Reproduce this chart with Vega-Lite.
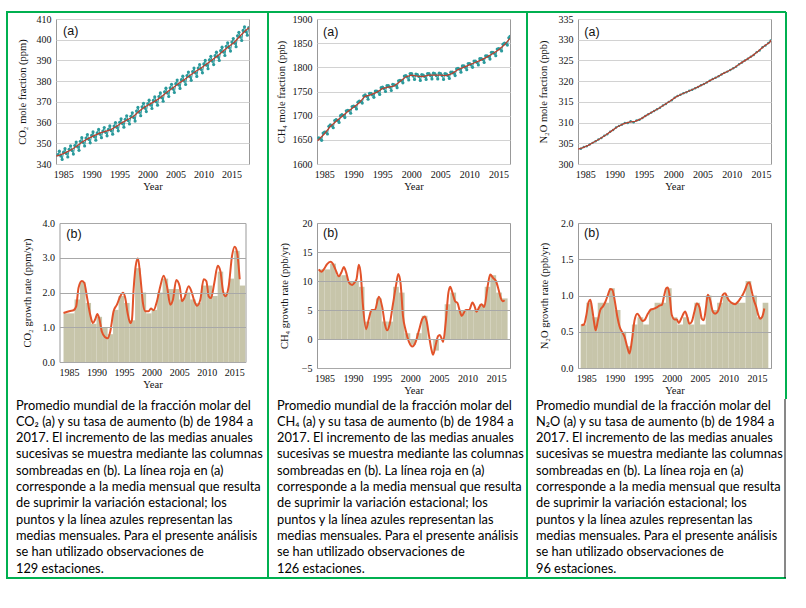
{
"$schema": "https://vega.github.io/schema/vega-lite/v6.json",
"padding": {"left": 6, "top": 11, "right": 2, "bottom": 2},
"background": "white",
"bounds": "flush",
"columns": 3,
"center": true,
"spacing": {"row": 59, "column": 68},
"datasets": {
"co2m": [{"t":1984.05,"v":344.5},{"t":1984.3,"v":346.2},{"t":1984.55,"v":343.9},{"t":1984.8,"v":342.2},
{"t":1985.05,"v":345.7},{"t":1985.3,"v":347.4},{"t":1985.55,"v":345.1},{"t":1985.8,"v":343.4},
{"t":1986.05,"v":347.1},{"t":1986.3,"v":348.8},{"t":1986.55,"v":346.5},{"t":1986.8,"v":344.8},
{"t":1987.05,"v":348.9},{"t":1987.3,"v":350.6},{"t":1987.55,"v":348.3},{"t":1987.8,"v":346.6},
{"t":1988.05,"v":351.0},{"t":1988.3,"v":352.7},{"t":1988.55,"v":350.4},{"t":1988.8,"v":348.7},
{"t":1989.05,"v":352.5},{"t":1989.3,"v":354.2},{"t":1989.55,"v":351.9},{"t":1989.8,"v":350.2},
{"t":1990.05,"v":353.8},{"t":1990.3,"v":355.5},{"t":1990.55,"v":353.2},{"t":1990.8,"v":351.5},
{"t":1991.05,"v":355.0},{"t":1991.3,"v":356.7},{"t":1991.55,"v":354.4},{"t":1991.8,"v":352.7},
{"t":1992.05,"v":355.9},{"t":1992.3,"v":357.6},{"t":1992.55,"v":355.3},{"t":1992.8,"v":353.6},
{"t":1993.05,"v":356.7},{"t":1993.3,"v":358.4},{"t":1993.55,"v":356.1},{"t":1993.8,"v":354.4},
{"t":1994.05,"v":358.3},{"t":1994.3,"v":360.0},{"t":1994.55,"v":357.7},{"t":1994.8,"v":356.0},
{"t":1995.05,"v":360.1},{"t":1995.3,"v":361.8},{"t":1995.55,"v":359.5},{"t":1995.8,"v":357.8},
{"t":1996.05,"v":361.6},{"t":1996.3,"v":363.3},{"t":1996.55,"v":361.0},{"t":1996.8,"v":359.3},
{"t":1997.05,"v":363.0},{"t":1997.3,"v":364.7},{"t":1997.55,"v":362.4},{"t":1997.8,"v":360.7},
{"t":1998.05,"v":365.6},{"t":1998.3,"v":367.3},{"t":1998.55,"v":365.0},{"t":1998.8,"v":363.3},
{"t":1999.05,"v":367.6},{"t":1999.3,"v":369.3},{"t":1999.55,"v":367.0},{"t":1999.8,"v":365.3},
{"t":2000.05,"v":369.1},{"t":2000.3,"v":370.8},{"t":2000.55,"v":368.5},{"t":2000.8,"v":366.8},
{"t":2001.05,"v":370.7},{"t":2001.3,"v":372.4},{"t":2001.55,"v":370.1},{"t":2001.8,"v":368.4},
{"t":2002.05,"v":372.6},{"t":2002.3,"v":374.3},{"t":2002.55,"v":372.0},{"t":2002.8,"v":370.3},
{"t":2003.05,"v":374.9},{"t":2003.3,"v":376.6},{"t":2003.55,"v":374.3},{"t":2003.8,"v":372.6},
{"t":2004.05,"v":376.8},{"t":2004.3,"v":378.5},{"t":2004.55,"v":376.2},{"t":2004.8,"v":374.5},
{"t":2005.05,"v":378.8},{"t":2005.3,"v":380.5},{"t":2005.55,"v":378.2},{"t":2005.8,"v":376.5},
{"t":2006.05,"v":380.7},{"t":2006.3,"v":382.4},{"t":2006.55,"v":380.1},{"t":2006.8,"v":378.4},
{"t":2007.05,"v":382.7},{"t":2007.3,"v":384.4},{"t":2007.55,"v":382.1},{"t":2007.8,"v":380.4},
{"t":2008.05,"v":384.6},{"t":2008.3,"v":386.3},{"t":2008.55,"v":384.0},{"t":2008.8,"v":382.3},
{"t":2009.05,"v":386.3},{"t":2009.3,"v":388.0},{"t":2009.55,"v":385.7},{"t":2009.8,"v":384.0},
{"t":2010.05,"v":388.3},{"t":2010.3,"v":390.0},{"t":2010.55,"v":387.7},{"t":2010.8,"v":386.0},
{"t":2011.05,"v":390.3},{"t":2011.3,"v":392.0},{"t":2011.55,"v":389.7},{"t":2011.8,"v":388.0},
{"t":2012.05,"v":392.3},{"t":2012.3,"v":394.0},{"t":2012.55,"v":391.7},{"t":2012.8,"v":390.0},
{"t":2013.05,"v":394.7},{"t":2013.3,"v":396.4},{"t":2013.55,"v":394.1},{"t":2013.8,"v":392.4},
{"t":2014.05,"v":396.8},{"t":2014.3,"v":398.5},{"t":2014.55,"v":396.2},{"t":2014.8,"v":394.5},
{"t":2015.05,"v":398.9},{"t":2015.3,"v":400.6},{"t":2015.55,"v":398.3},{"t":2015.8,"v":396.6},
{"t":2016.05,"v":401.9},{"t":2016.3,"v":403.6},{"t":2016.55,"v":401.3},{"t":2016.8,"v":399.6},
{"t":2017.05,"v":404.5},{"t":2017.3,"v":406.2},{"t":2017.55,"v":403.9},{"t":2017.8,"v":402.2},
{"t":2018.05,"v":405.8}],
"co2t": [{"t":1983.75,"v":343.8},{"t":1984.5,"v":344.4},{"t":1985.5,"v":345.6},{"t":1986.5,"v":347.0},{"t":1987.5,"v":348.8},{"t":1988.5,"v":350.9},{"t":1989.5,"v":352.4},{"t":1990.5,"v":353.7},{"t":1991.5,"v":354.9},{"t":1992.5,"v":355.8},{"t":1993.5,"v":356.6},{"t":1994.5,"v":358.2},{"t":1995.5,"v":360.0},{"t":1996.5,"v":361.5},{"t":1997.5,"v":362.9},{"t":1998.5,"v":365.5},{"t":1999.5,"v":367.5},{"t":2000.5,"v":369.0},{"t":2001.5,"v":370.6},{"t":2002.5,"v":372.5},{"t":2003.5,"v":374.8},{"t":2004.5,"v":376.7},{"t":2005.5,"v":378.7},{"t":2006.5,"v":380.6},{"t":2007.5,"v":382.6},{"t":2008.5,"v":384.5},{"t":2009.5,"v":386.2},{"t":2010.5,"v":388.2},{"t":2011.5,"v":390.2},{"t":2012.5,"v":392.2},{"t":2013.5,"v":394.6},{"t":2014.5,"v":396.7},{"t":2015.5,"v":398.8},{"t":2016.5,"v":401.8},{"t":2017.5,"v":404.4},{"t":2018.1,"v":405.8}],
"ch4m": [{"t":1984.05,"v":1654},{"t":1984.3,"v":1653},{"t":1984.55,"v":1649},{"t":1984.8,"v":1664},
{"t":1985.05,"v":1666},{"t":1985.3,"v":1666},{"t":1985.55,"v":1662},{"t":1985.8,"v":1678},
{"t":1986.05,"v":1681},{"t":1986.3,"v":1679},{"t":1986.55,"v":1675},{"t":1986.8,"v":1690},
{"t":1987.05,"v":1692},{"t":1987.3,"v":1690},{"t":1987.55,"v":1686},{"t":1987.8,"v":1700},
{"t":1988.05,"v":1702},{"t":1988.3,"v":1700},{"t":1988.55,"v":1696},{"t":1988.8,"v":1710},
{"t":1989.05,"v":1711},{"t":1989.3,"v":1710},{"t":1989.55,"v":1705},{"t":1989.8,"v":1719},
{"t":1990.05,"v":1720},{"t":1990.3,"v":1719},{"t":1990.55,"v":1714},{"t":1990.8,"v":1728},
{"t":1991.05,"v":1730},{"t":1991.3,"v":1729},{"t":1991.55,"v":1726},{"t":1991.8,"v":1741},
{"t":1992.05,"v":1743},{"t":1992.3,"v":1740},{"t":1992.55,"v":1734},{"t":1992.8,"v":1746},
{"t":1993.05,"v":1746},{"t":1993.3,"v":1743},{"t":1993.55,"v":1738},{"t":1993.8,"v":1751},
{"t":1994.05,"v":1751},{"t":1994.3,"v":1749},{"t":1994.55,"v":1744},{"t":1994.8,"v":1758},
{"t":1995.05,"v":1759},{"t":1995.3,"v":1756},{"t":1995.55,"v":1750},{"t":1995.8,"v":1762},
{"t":1996.05,"v":1762},{"t":1996.3,"v":1759},{"t":1996.55,"v":1752},{"t":1996.8,"v":1765},
{"t":1997.05,"v":1764},{"t":1997.3,"v":1763},{"t":1997.55,"v":1758},{"t":1997.8,"v":1772},
{"t":1998.05,"v":1773},{"t":1998.3,"v":1772},{"t":1998.55,"v":1768},{"t":1998.8,"v":1782},
{"t":1999.05,"v":1783},{"t":1999.3,"v":1780},{"t":1999.55,"v":1774},{"t":1999.8,"v":1787},
{"t":2000.05,"v":1787},{"t":2000.3,"v":1782},{"t":2000.55,"v":1775},{"t":2000.8,"v":1786},
{"t":2001.05,"v":1785},{"t":2001.3,"v":1781},{"t":2001.55,"v":1773},{"t":2001.8,"v":1785},
{"t":2002.05,"v":1784},{"t":2002.3,"v":1781},{"t":2002.55,"v":1775},{"t":2002.8,"v":1787},
{"t":2003.05,"v":1787},{"t":2003.3,"v":1783},{"t":2003.55,"v":1776},{"t":2003.8,"v":1788},
{"t":2004.05,"v":1787},{"t":2004.3,"v":1783},{"t":2004.55,"v":1776},{"t":2004.8,"v":1788},
{"t":2005.05,"v":1787},{"t":2005.3,"v":1783},{"t":2005.55,"v":1775},{"t":2005.8,"v":1787},
{"t":2006.05,"v":1786},{"t":2006.3,"v":1783},{"t":2006.55,"v":1777},{"t":2006.8,"v":1790},
{"t":2007.05,"v":1790},{"t":2007.3,"v":1788},{"t":2007.55,"v":1783},{"t":2007.8,"v":1797},
{"t":2008.05,"v":1798},{"t":2008.3,"v":1796},{"t":2008.55,"v":1790},{"t":2008.8,"v":1803},
{"t":2009.05,"v":1803},{"t":2009.3,"v":1800},{"t":2009.55,"v":1795},{"t":2009.8,"v":1808},
{"t":2010.05,"v":1808},{"t":2010.3,"v":1805},{"t":2010.55,"v":1800},{"t":2010.8,"v":1813},
{"t":2011.05,"v":1813},{"t":2011.3,"v":1810},{"t":2011.55,"v":1805},{"t":2011.8,"v":1818},
{"t":2012.05,"v":1818},{"t":2012.3,"v":1816},{"t":2012.55,"v":1810},{"t":2012.8,"v":1824},
{"t":2013.05,"v":1824},{"t":2013.3,"v":1822},{"t":2013.55,"v":1817},{"t":2013.8,"v":1831},
{"t":2014.05,"v":1831},{"t":2014.3,"v":1829},{"t":2014.55,"v":1824},{"t":2014.8,"v":1838},
{"t":2015.05,"v":1839},{"t":2015.3,"v":1838},{"t":2015.55,"v":1834},{"t":2015.8,"v":1848},
{"t":2016.05,"v":1850},{"t":2016.3,"v":1849},{"t":2016.55,"v":1846},{"t":2016.8,"v":1861},
{"t":2017.0,"v":1864}],
"ch4t": [{"t":1983.85,"v":1648},{"t":1984,"v":1650},{"t":1985,"v":1662},{"t":1986,"v":1677},{"t":1987,"v":1688},{"t":1988,"v":1698},{"t":1989,"v":1708},{"t":1990,"v":1717},{"t":1991,"v":1726},{"t":1992,"v":1740},{"t":1993,"v":1743},{"t":1994,"v":1748},{"t":1995,"v":1756},{"t":1996,"v":1759},{"t":1997,"v":1761},{"t":1998,"v":1770},{"t":1999,"v":1780},{"t":2000,"v":1784},{"t":2001,"v":1782},{"t":2002,"v":1781},{"t":2003,"v":1784},{"t":2004,"v":1784},{"t":2005,"v":1784},{"t":2006,"v":1783},{"t":2007,"v":1787},{"t":2008,"v":1795},{"t":2009,"v":1800},{"t":2010,"v":1805},{"t":2011,"v":1810},{"t":2012,"v":1815},{"t":2013,"v":1821},{"t":2014,"v":1828},{"t":2015,"v":1836},{"t":2016,"v":1846},{"t":2017,"v":1860}],
"n2om": [{"t":1984.25,"v":303.7},{"t":1984.75,"v":304.1},{"t":1985.25,"v":304.3},{"t":1985.75,"v":304.7},{"t":1986.25,"v":305.1},{"t":1986.75,"v":305.5},{"t":1987.25,"v":305.9},{"t":1987.75,"v":306.3},{"t":1988.25,"v":306.8},{"t":1988.75,"v":307.2},{"t":1989.25,"v":307.8},{"t":1989.75,"v":308.2},{"t":1990.25,"v":308.8},{"t":1990.75,"v":309.2},{"t":1991.25,"v":309.5},{"t":1991.75,"v":309.9},{"t":1992.25,"v":309.9},{"t":1992.75,"v":310.3},{"t":1993.25,"v":310.1},{"t":1993.75,"v":310.5},{"t":1994.25,"v":310.7},{"t":1994.75,"v":311.1},{"t":1995.25,"v":311.6},{"t":1995.75,"v":312.0},{"t":1996.25,"v":312.4},{"t":1996.75,"v":312.8},{"t":1997.25,"v":313.2},{"t":1997.75,"v":313.6},{"t":1998.25,"v":314.1},{"t":1998.75,"v":314.5},{"t":1999.25,"v":315.0},{"t":1999.75,"v":315.4},{"t":2000.25,"v":316.0},{"t":2000.75,"v":316.4},{"t":2001.25,"v":316.7},{"t":2001.75,"v":317.1},{"t":2002.25,"v":317.3},{"t":2002.75,"v":317.7},{"t":2003.25,"v":317.9},{"t":2003.75,"v":318.3},{"t":2004.25,"v":318.6},{"t":2004.75,"v":319.0},{"t":2005.25,"v":319.3},{"t":2005.75,"v":319.7},{"t":2006.25,"v":320.1},{"t":2006.75,"v":320.5},{"t":2007.25,"v":320.8},{"t":2007.75,"v":321.2},{"t":2008.25,"v":321.6},{"t":2008.75,"v":322.0},{"t":2009.25,"v":322.3},{"t":2009.75,"v":322.7},{"t":2010.25,"v":323.1},{"t":2010.75,"v":323.5},{"t":2011.25,"v":324.1},{"t":2011.75,"v":324.5},{"t":2012.25,"v":325.0},{"t":2012.75,"v":325.4},{"t":2013.25,"v":325.9},{"t":2013.75,"v":326.3},{"t":2014.25,"v":327.0},{"t":2014.75,"v":327.4},{"t":2015.25,"v":328.2},{"t":2015.75,"v":328.6},{"t":2016.25,"v":329.2},{"t":2016.65,"v":329.8}],
"n2ot": [{"t":1983.8,"v":303.6},{"t":1984.5,"v":303.9},{"t":1985.5,"v":304.5},{"t":1986.5,"v":305.3},{"t":1987.5,"v":306.1},{"t":1988.5,"v":307.0},{"t":1989.5,"v":308.0},{"t":1990.5,"v":309.0},{"t":1991.5,"v":309.7},{"t":1992.5,"v":310.1},{"t":1993.5,"v":310.3},{"t":1994.5,"v":310.9},{"t":1995.5,"v":311.8},{"t":1996.5,"v":312.6},{"t":1997.5,"v":313.4},{"t":1998.5,"v":314.3},{"t":1999.5,"v":315.2},{"t":2000.5,"v":316.2},{"t":2001.5,"v":316.9},{"t":2002.5,"v":317.5},{"t":2003.5,"v":318.1},{"t":2004.5,"v":318.8},{"t":2005.5,"v":319.5},{"t":2006.5,"v":320.3},{"t":2007.5,"v":321.0},{"t":2008.5,"v":321.8},{"t":2009.5,"v":322.5},{"t":2010.5,"v":323.3},{"t":2011.5,"v":324.3},{"t":2012.5,"v":325.2},{"t":2013.5,"v":326.1},{"t":2014.5,"v":327.2},{"t":2015.5,"v":328.4},{"t":2016.5,"v":329.4},{"t":2016.7,"v":329.9}],
"co2y": [{"from":1984,"to":1985,"v":1.4},{"from":1985,"to":1986,"v":1.4},{"from":1986,"to":1987,"v":1.8},{"from":1987,"to":1988,"v":2.3},{"from":1988,"to":1989,"v":1.7},{"from":1989,"to":1990,"v":1.1},{"from":1990,"to":1991,"v":1.3},{"from":1991,"to":1992,"v":1.0},{"from":1992,"to":1993,"v":0.8},{"from":1993,"to":1994,"v":1.5},{"from":1994,"to":1995,"v":1.9},{"from":1995,"to":1996,"v":1.7},{"from":1996,"to":1997,"v":1.2},{"from":1997,"to":1998,"v":2.7},{"from":1998,"to":1999,"v":2.0},{"from":1999,"to":2000,"v":1.4},{"from":2000,"to":2001,"v":1.5},{"from":2001,"to":2002,"v":2.0},{"from":2002,"to":2003,"v":2.4},{"from":2003,"to":2004,"v":2.1},{"from":2004,"to":2005,"v":2.1},{"from":2005,"to":2006,"v":1.8},{"from":2006,"to":2007,"v":2.0},{"from":2007,"to":2008,"v":1.8},{"from":2008,"to":2009,"v":1.7},{"from":2009,"to":2010,"v":2.2},{"from":2010,"to":2011,"v":2.2},{"from":2011,"to":2012,"v":1.9},{"from":2012,"to":2013,"v":2.6},{"from":2013,"to":2014,"v":2.0},{"from":2014,"to":2015,"v":2.4},{"from":2015,"to":2016,"v":3.2},{"from":2016,"to":2017,"v":2.2}],
"co2r": [{"t":1984.0,"v":1.41},{"t":1985.21,"v":1.47},{"t":1985.82,"v":1.49},{"t":1986.3,"v":1.6},{"t":1986.73,"v":2.14},{"t":1987.33,"v":2.33},{"t":1987.76,"v":2.28},{"t":1988.24,"v":1.89},{"t":1988.85,"v":1.36},{"t":1989.33,"v":1.12},{"t":1989.76,"v":1.23},{"t":1990.12,"v":1.38},{"t":1990.48,"v":1.26},{"t":1990.97,"v":0.87},{"t":1991.58,"v":0.71},{"t":1992.0,"v":0.68},{"t":1992.48,"v":0.87},{"t":1993.09,"v":1.46},{"t":1993.7,"v":1.65},{"t":1994.3,"v":1.89},{"t":1994.79,"v":1.99},{"t":1995.21,"v":1.84},{"t":1995.64,"v":1.41},{"t":1996.12,"v":1.12},{"t":1996.42,"v":1.21},{"t":1996.73,"v":2.09},{"t":1997.21,"v":2.86},{"t":1997.52,"v":2.98},{"t":1997.94,"v":2.48},{"t":1998.42,"v":1.7},{"t":1998.85,"v":1.46},{"t":1999.45,"v":1.46},{"t":1999.88,"v":1.54},{"t":2000.36,"v":1.49},{"t":2000.97,"v":1.75},{"t":2001.58,"v":2.18},{"t":2002.18,"v":2.48},{"t":2002.79,"v":2.18},{"t":2003.39,"v":1.65},{"t":2003.88,"v":1.8},{"t":2004.48,"v":2.36},{"t":2005.09,"v":2.18},{"t":2005.52,"v":1.75},{"t":2005.94,"v":1.84},{"t":2006.73,"v":2.18},{"t":2007.21,"v":2.04},{"t":2007.76,"v":1.75},{"t":2008.24,"v":1.62},{"t":2008.85,"v":1.8},{"t":2009.45,"v":2.38},{"t":2009.94,"v":2.33},{"t":2010.36,"v":1.89},{"t":2010.79,"v":1.84},{"t":2011.39,"v":2.28},{"t":2012.0,"v":2.77},{"t":2012.48,"v":2.62},{"t":2012.97,"v":2.04},{"t":2013.39,"v":1.89},{"t":2014.0,"v":2.18},{"t":2014.61,"v":3.06},{"t":2015.09,"v":3.32},{"t":2015.52,"v":3.16},{"t":2016.0,"v":2.38}],
"ch4y": [{"from":1984,"to":1985,"v":12},{"from":1985,"to":1986,"v":12},{"from":1986,"to":1987,"v":13},{"from":1987,"to":1988,"v":11},{"from":1988,"to":1989,"v":11},{"from":1989,"to":1990,"v":10},{"from":1990,"to":1991,"v":10},{"from":1991,"to":1992,"v":9},{"from":1992,"to":1993,"v":3},{"from":1993,"to":1994,"v":5},{"from":1994,"to":1995,"v":7},{"from":1995,"to":1996,"v":3},{"from":1996,"to":1997,"v":3},{"from":1997,"to":1998,"v":9},{"from":1998,"to":1999,"v":8},{"from":1999,"to":2000,"v":1},{"from":2000,"to":2001,"v":-1},{"from":2001,"to":2002,"v":1},{"from":2002,"to":2003,"v":4},{"from":2003,"to":2004,"v":0},{"from":2004,"to":2005,"v":-2},{"from":2005,"to":2006,"v":0},{"from":2006,"to":2007,"v":6},{"from":2007,"to":2008,"v":8},{"from":2008,"to":2009,"v":5},{"from":2009,"to":2010,"v":5},{"from":2010,"to":2011,"v":5},{"from":2011,"to":2012,"v":5},{"from":2012,"to":2013,"v":6},{"from":2013,"to":2014,"v":9},{"from":2014,"to":2015,"v":11},{"from":2015,"to":2016,"v":8},{"from":2016,"to":2017,"v":7}],
"ch4r": [{"t":1984.0,"v":12.0},{"t":1984.47,"v":11.6},{"t":1984.88,"v":12.0},{"t":1985.46,"v":12.9},{"t":1986.04,"v":13.3},{"t":1986.45,"v":13.0},{"t":1986.92,"v":12.0},{"t":1987.5,"v":10.8},{"t":1987.97,"v":11.5},{"t":1988.38,"v":12.4},{"t":1988.79,"v":11.5},{"t":1989.26,"v":9.8},{"t":1989.84,"v":9.3},{"t":1990.31,"v":9.8},{"t":1990.6,"v":10.3},{"t":1991.01,"v":12.8},{"t":1991.36,"v":11.0},{"t":1991.71,"v":6.0},{"t":1992.29,"v":1.7},{"t":1992.76,"v":3.5},{"t":1993.23,"v":5.0},{"t":1993.81,"v":5.0},{"t":1994.51,"v":7.3},{"t":1995.1,"v":5.5},{"t":1995.57,"v":2.5},{"t":1995.97,"v":1.5},{"t":1996.38,"v":2.5},{"t":1996.97,"v":6.0},{"t":1997.55,"v":9.5},{"t":1997.9,"v":11.2},{"t":1998.31,"v":9.5},{"t":1998.72,"v":4.0},{"t":1999.19,"v":1.5},{"t":1999.77,"v":-0.5},{"t":2000.36,"v":-1.3},{"t":2000.94,"v":-0.5},{"t":2001.52,"v":1.5},{"t":2002.11,"v":3.5},{"t":2002.52,"v":3.9},{"t":2002.87,"v":3.0},{"t":2003.28,"v":0.5},{"t":2003.74,"v":-2.0},{"t":2003.98,"v":-2.7},{"t":2004.44,"v":-1.0},{"t":2004.85,"v":0.5},{"t":2005.15,"v":0.7},{"t":2005.5,"v":0.0},{"t":2005.73,"v":-0.5},{"t":2006.2,"v":3.0},{"t":2006.66,"v":8.0},{"t":2006.96,"v":9.0},{"t":2007.36,"v":8.0},{"t":2007.83,"v":6.5},{"t":2008.24,"v":6.2},{"t":2008.65,"v":4.8},{"t":2009.0,"v":4.0},{"t":2009.7,"v":5.0},{"t":2010.28,"v":5.0},{"t":2010.87,"v":6.3},{"t":2011.28,"v":5.5},{"t":2011.57,"v":4.7},{"t":2012.04,"v":5.5},{"t":2012.45,"v":6.0},{"t":2012.91,"v":5.5},{"t":2013.5,"v":9.0},{"t":2013.96,"v":11.1},{"t":2014.49,"v":10.5},{"t":2014.96,"v":10.0},{"t":2015.43,"v":8.5},{"t":2015.83,"v":7.0},{"t":2016.13,"v":6.5},{"t":2016.48,"v":6.7}],
"n2oy": [{"from":1984,"to":1985,"v":0.6},{"from":1985,"to":1986,"v":0.9},{"from":1986,"to":1987,"v":0.7},{"from":1987,"to":1988,"v":0.9},{"from":1988,"to":1989,"v":0.9},{"from":1989,"to":1990,"v":1.1},{"from":1990,"to":1991,"v":0.8},{"from":1991,"to":1992,"v":0.5},{"from":1992,"to":1993,"v":0.3},{"from":1993,"to":1994,"v":0.6},{"from":1994,"to":1995,"v":0.7},{"from":1995,"to":1996,"v":0.6},{"from":1996,"to":1997,"v":0.8},{"from":1997,"to":1998,"v":0.9},{"from":1998,"to":1999,"v":0.9},{"from":1999,"to":2000,"v":1.1},{"from":2000,"to":2001,"v":0.7},{"from":2001,"to":2002,"v":0.6},{"from":2002,"to":2003,"v":0.7},{"from":2003,"to":2004,"v":0.6},{"from":2004,"to":2005,"v":0.9},{"from":2005,"to":2006,"v":0.6},{"from":2006,"to":2007,"v":1.0},{"from":2007,"to":2008,"v":0.8},{"from":2008,"to":2009,"v":0.9},{"from":2009,"to":2010,"v":1.0},{"from":2010,"to":2011,"v":0.9},{"from":2011,"to":2012,"v":0.9},{"from":2012,"to":2013,"v":0.9},{"from":2013,"to":2014,"v":1.2},{"from":2014,"to":2015,"v":1.0},{"from":2015,"to":2016,"v":0.7},{"from":2016,"to":2017,"v":0.9}],
"n2or": [{"t":1984.12,"v":0.59},{"t":1984.59,"v":0.6},{"t":1985.0,"v":0.73},{"t":1985.4,"v":0.91},{"t":1985.7,"v":0.94},{"t":1986.05,"v":0.8},{"t":1986.34,"v":0.64},{"t":1986.63,"v":0.52},{"t":1987.04,"v":0.66},{"t":1987.45,"v":0.8},{"t":1987.92,"v":0.85},{"t":1988.33,"v":0.91},{"t":1988.8,"v":1.01},{"t":1989.21,"v":1.09},{"t":1989.56,"v":1.08},{"t":1989.97,"v":0.94},{"t":1990.44,"v":0.71},{"t":1990.85,"v":0.57},{"t":1991.26,"v":0.5},{"t":1991.72,"v":0.43},{"t":1992.19,"v":0.29},{"t":1992.6,"v":0.2},{"t":1993.01,"v":0.38},{"t":1993.48,"v":0.66},{"t":1993.95,"v":0.75},{"t":1994.36,"v":0.71},{"t":1994.83,"v":0.65},{"t":1995.23,"v":0.66},{"t":1995.82,"v":0.75},{"t":1996.41,"v":0.81},{"t":1996.99,"v":0.82},{"t":1997.46,"v":0.84},{"t":1997.87,"v":0.86},{"t":1998.28,"v":0.87},{"t":1998.63,"v":0.98},{"t":1999.04,"v":1.1},{"t":1999.33,"v":1.11},{"t":1999.62,"v":1.01},{"t":2000.03,"v":0.73},{"t":2000.5,"v":0.67},{"t":2000.91,"v":0.67},{"t":2001.26,"v":0.62},{"t":2001.67,"v":0.68},{"t":2002.08,"v":0.75},{"t":2002.37,"v":0.78},{"t":2002.72,"v":0.71},{"t":2003.13,"v":0.61},{"t":2003.54,"v":0.64},{"t":2004.01,"v":0.78},{"t":2004.42,"v":0.89},{"t":2004.89,"v":0.84},{"t":2005.3,"v":0.68},{"t":2005.65,"v":0.66},{"t":2006.06,"v":0.85},{"t":2006.35,"v":1.01},{"t":2006.76,"v":0.94},{"t":2007.23,"v":0.78},{"t":2007.64,"v":0.75},{"t":2008.11,"v":0.78},{"t":2008.58,"v":0.89},{"t":2008.99,"v":1.01},{"t":2009.4,"v":1.03},{"t":2009.86,"v":0.96},{"t":2010.33,"v":0.91},{"t":2010.74,"v":0.89},{"t":2011.15,"v":0.88},{"t":2011.62,"v":0.91},{"t":2012.09,"v":0.96},{"t":2012.5,"v":1.01},{"t":2012.91,"v":1.08},{"t":2013.38,"v":1.17},{"t":2013.67,"v":1.18},{"t":2013.96,"v":1.1},{"t":2014.43,"v":0.94},{"t":2014.84,"v":0.85},{"t":2015.24,"v":0.73},{"t":2015.59,"v":0.68},{"t":2015.95,"v":0.71},{"t":2016.3,"v":0.82}],
"cap1": [{"c":"Promedio mundial de la fracción molar del\nCO₂ (a) y su tasa de aumento (b) de 1984 a\n2017. El incremento de las medias anuales\nsucesivas se muestra mediante las columnas\nsombreadas en (b). La línea roja en (a)\ncorresponde a la media mensual que resulta\nde suprimir la variación estacional; los\npuntos y la línea azules representan las\nmedias mensuales. Para el presente análisis\nse han utilizado observaciones de\n129 estaciones."}],
"cap2": [{"c":"Promedio mundial de la fracción molar del\nCH₄ (a) y su tasa de aumento (b) de 1984 a\n2017. El incremento de las medias anuales\nsucesivas se muestra mediante las columnas\nsombreadas en (b). La línea roja en (a)\ncorresponde a la media mensual que resulta\nde suprimir la variación estacional; los\npuntos y la línea azules representan las\nmedias mensuales. Para el presente análisis\nse han utilizado observaciones de\n126 estaciones."}],
"cap3": [{"c":"Promedio mundial de la fracción molar del\nN₂O (a) y su tasa de aumento (b) de 1984 a\n2017. El incremento de las medias anuales\nsucesivas se muestra mediante las columnas\nsombreadas en (b). La línea roja en (a)\ncorresponde a la media mensual que resulta\nde suprimir la variación estacional; los\npuntos y la línea azules representan las\nmedias mensuales. Para el presente análisis\nse han utilizado observaciones de\n96 estaciones."}]
},
"concat": [
    {"width": 193, "height": 145,
     "layer": [
      {"data": {"name": "co2m"}, "mark": {"type": "line", "color": "#2a9a9c", "strokeWidth": 1, "clip": true},
       "encoding": {"x": {"field": "t", "type": "quantitative", "scale": {"domain": [1983.7, 2018.1], "nice": false, "zero": false}, "axis": {"values": [1985,1990,1995,2000,2005,2010,2015], "tickCount": 50, "format": "d", "title": "Year", "labelOverlap": false}},
                    "y": {"field": "v", "type": "quantitative", "scale": {"domain": [340, 410], "nice": false, "zero": false}, "axis": {"values": [340,350,360,370,380,390,400,410], "tickCount": 50, "format": "d", "title": "CO₂ mole fraction (ppm)", "titlePadding": 9, "labelOverlap": false}}}},
      {"data": {"name": "co2m"}, "mark": {"type": "point", "filled": true, "size": 10, "color": "#2a9a9c", "opacity": 1, "clip": true},
       "encoding": {"x": {"field": "t", "type": "quantitative"}, "y": {"field": "v", "type": "quantitative"}}},
      {"data": {"name": "co2t"}, "mark": {"type": "line", "color": "#b8402f", "strokeWidth": 1.3, "clip": true},
       "encoding": {"x": {"field": "t", "type": "quantitative"}, "y": {"field": "v", "type": "quantitative"}}},
      {"data": {"values": [{"lab": "(a)"}]}, "mark": {"type": "text", "align": "left", "baseline": "middle", "font": "Liberation Sans", "fontSize": 12.5, "color": "#111"},
       "encoding": {"x": {"datum": 1984.95, "type": "quantitative"}, "y": {"datum": 404.2, "type": "quantitative"}, "text": {"field": "lab"}}}
     ]},
    {"width": 193, "height": 145,
     "layer": [
      {"data": {"name": "ch4m"}, "mark": {"type": "line", "color": "#2a9a9c", "strokeWidth": 1, "clip": true},
       "encoding": {"x": {"field": "t", "type": "quantitative", "scale": {"domain": [1983.75, 2017.0], "nice": false, "zero": false}, "axis": {"values": [1985,1990,1995,2000,2005,2010,2015], "tickCount": 50, "format": "d", "title": "Year", "labelOverlap": false}},
                    "y": {"field": "v", "type": "quantitative", "scale": {"domain": [1600, 1900], "nice": false, "zero": false}, "axis": {"values": [1600,1650,1700,1750,1800,1850,1900], "tickCount": 50, "format": "d", "title": "CH₄ mole fraction (ppb)", "titlePadding": 6, "labelOverlap": false}}}},
      {"data": {"name": "ch4m"}, "mark": {"type": "point", "filled": true, "size": 10, "color": "#2a9a9c", "opacity": 1, "clip": true},
       "encoding": {"x": {"field": "t", "type": "quantitative"}, "y": {"field": "v", "type": "quantitative"}}},
      {"data": {"name": "ch4t"}, "mark": {"type": "line", "color": "#b8402f", "strokeWidth": 1.3, "clip": true},
       "encoding": {"x": {"field": "t", "type": "quantitative"}, "y": {"field": "v", "type": "quantitative"}}},
      {"data": {"values": [{"lab": "(a)"}]}, "mark": {"type": "text", "align": "left", "baseline": "middle", "font": "Liberation Sans", "fontSize": 12.5, "color": "#111"},
       "encoding": {"x": {"datum": 1984.8, "type": "quantitative"}, "y": {"datum": 1873.7, "type": "quantitative"}, "text": {"field": "lab"}}}
     ]},
    {"width": 193, "height": 145,
     "layer": [
      {"data": {"name": "n2om"}, "mark": {"type": "line", "color": "#2a9a9c", "strokeWidth": 1, "clip": true},
       "encoding": {"x": {"field": "t", "type": "quantitative", "scale": {"domain": [1983.76, 2016.7], "nice": false, "zero": false}, "axis": {"values": [1985,1990,1995,2000,2005,2010,2015], "tickCount": 50, "format": "d", "title": "Year", "labelOverlap": false}},
                    "y": {"field": "v", "type": "quantitative", "scale": {"domain": [300, 335], "nice": false, "zero": false}, "axis": {"values": [300,305,310,315,320,325,330,335], "tickCount": 50, "format": "d", "title": "N₂O mole fraction (ppb)", "titlePadding": 10, "labelOverlap": false}}}},
      {"data": {"name": "n2om"}, "mark": {"type": "point", "filled": true, "size": 6, "color": "#2a9a9c", "opacity": 1, "clip": true},
       "encoding": {"x": {"field": "t", "type": "quantitative"}, "y": {"field": "v", "type": "quantitative"}}},
      {"data": {"name": "n2ot"}, "mark": {"type": "line", "color": "#b8402f", "strokeWidth": 1.3, "clip": true},
       "encoding": {"x": {"field": "t", "type": "quantitative"}, "y": {"field": "v", "type": "quantitative"}}},
      {"data": {"values": [{"lab": "(a)"}]}, "mark": {"type": "text", "align": "left", "baseline": "middle", "font": "Liberation Sans", "fontSize": 12.5, "color": "#111"},
       "encoding": {"x": {"datum": 1984.83, "type": "quantitative"}, "y": {"datum": 331.9, "type": "quantitative"}, "text": {"field": "lab"}}}
     ]},
    {"width": 186, "height": 139,
     "layer": [
      {"data": {"name": "co2y"}, "mark": {"type": "rect", "color": "#c7c5aa"},
       "encoding": {"x": {"field": "from", "type": "quantitative", "scale": {"domain": [1983.27, 2017.05], "nice": false, "zero": false}, "axis": {"values": [1985,1990,1995,2000,2005,2010,2015], "tickCount": 50, "format": "d", "title": "Year", "labelOverlap": false}},
                    "x2": {"field": "to"},
                    "y": {"field": "v", "type": "quantitative", "scale": {"domain": [0, 4], "nice": false}, "axis": {"values": [0,1,2,3,4], "tickCount": 50, "format": ".1f", "title": "CO₂ growth rate (ppm/yr)", "titlePadding": 10, "zindex": 1, "gridColor": "#a8a8a8", "labelOverlap": false}},
                    "y2": {"datum": 0}}},
      {"data": {"name": "co2r"}, "mark": {"type": "line", "color": "#e2532a", "strokeWidth": 2, "interpolate": "monotone", "clip": true},
       "encoding": {"x": {"field": "t", "type": "quantitative"}, "y": {"field": "v", "type": "quantitative"}}},
      {"data": {"values": [{"lab": "(b)"}]}, "mark": {"type": "text", "align": "left", "baseline": "middle", "font": "Liberation Sans", "fontSize": 12.5, "color": "#111"},
       "encoding": {"x": {"datum": 1984.5, "type": "quantitative"}, "y": {"datum": 3.68, "type": "quantitative"}, "text": {"field": "lab"}}}
     ]},
    {"width": 193, "height": 145,
     "layer": [
      {"data": {"name": "ch4y"}, "mark": {"type": "rect", "color": "#c7c5aa"},
       "encoding": {"x": {"field": "from", "type": "quantitative", "scale": {"domain": [1983.7, 2017.42], "nice": false, "zero": false}, "axis": {"values": [1985,1990,1995,2000,2005,2010,2015], "tickCount": 50, "format": "d", "title": "Year", "labelOverlap": false}},
                    "x2": {"field": "to"},
                    "y": {"field": "v", "type": "quantitative", "scale": {"domain": [-5, 20], "nice": false, "zero": false}, "axis": {"values": [-5,0,5,10,15,20], "tickCount": 50, "format": "d", "title": "CH₄ growth rate (ppb/yr)", "titlePadding": 12, "zindex": 1, "gridColor": "#a8a8a8", "labelOverlap": false}},
                    "y2": {"datum": 0}}},
      {"data": {"name": "ch4r"}, "mark": {"type": "line", "color": "#e2532a", "strokeWidth": 2, "interpolate": "monotone", "clip": true},
       "encoding": {"x": {"field": "t", "type": "quantitative"}, "y": {"field": "v", "type": "quantitative"}}},
      {"data": {"values": [{"lab": "(b)"}]}, "mark": {"type": "text", "align": "left", "baseline": "middle", "font": "Liberation Sans", "fontSize": 12.5, "color": "#111"},
       "encoding": {"x": {"datum": 1984.75, "type": "quantitative"}, "y": {"datum": 18.2, "type": "quantitative"}, "text": {"field": "lab"}}}
     ]},
    {"width": 193, "height": 145,
     "layer": [
      {"data": {"name": "n2oy"}, "mark": {"type": "rect", "color": "#c7c5aa"},
       "encoding": {"x": {"field": "from", "type": "quantitative", "scale": {"domain": [1983.53, 2017.47], "nice": false, "zero": false}, "axis": {"values": [1985,1990,1995,2000,2005,2010,2015], "tickCount": 50, "format": "d", "title": "Year", "labelOverlap": false}},
                    "x2": {"field": "to"},
                    "y": {"field": "v", "type": "quantitative", "scale": {"domain": [0, 2], "nice": false}, "axis": {"values": [0,0.5,1,1.5,2], "tickCount": 50, "format": ".1f", "title": "N₂O growth rate (ppb/yr)", "titlePadding": 11, "zindex": 1, "gridColor": "#a8a8a8", "labelOverlap": false}},
                    "y2": {"datum": 0}}},
      {"data": {"name": "n2or"}, "mark": {"type": "line", "color": "#e2532a", "strokeWidth": 2, "interpolate": "monotone", "clip": true},
       "encoding": {"x": {"field": "t", "type": "quantitative"}, "y": {"field": "v", "type": "quantitative"}}},
      {"data": {"values": [{"lab": "(b)"}]}, "mark": {"type": "text", "align": "left", "baseline": "middle", "font": "Liberation Sans", "fontSize": 12.5, "color": "#111"},
       "encoding": {"x": {"datum": 1984.6, "type": "quantitative"}, "y": {"datum": 1.86, "type": "quantitative"}, "text": {"field": "lab"}}}
     ]},
  {"width": 193, "height": 151, "view": {"stroke": null},
   "layer": [
    {"data": {"values": [{"k": 1}]}, "mark": {"type": "rect", "fill": "white", "fillOpacity": 0, "stroke": "#00b050", "strokeWidth": 2},
     "encoding": {"x": {"datum": -49, "type": "quantitative", "scale": {"domain": [0, 193], "nice": false, "zero": false}, "axis": null}, "x2": {"datum": 212},
                  "y": {"datum": -415, "type": "quantitative", "scale": {"domain": [0, 151], "reverse": true, "nice": false, "zero": false}, "axis": null}, "y2": {"datum": 151}}},
    {"data": {"name": "cap1"}, "mark": {"type": "text", "align": "left", "baseline": "top", "lineBreak": "\n", "lineHeight": 16.3, "font": "Lato", "fontSize": 12.8, "color": "#000"},
     "encoding": {"x": {"datum": -40, "type": "quantitative"}, "y": {"datum": -27.5, "type": "quantitative"}, "text": {"field": "c"}}}
   ]},
  {"width": 193, "height": 151, "view": {"stroke": null},
   "layer": [
    {"data": {"values": [{"k": 1}]}, "mark": {"type": "rect", "fill": "white", "fillOpacity": 0, "stroke": "#00b050", "strokeWidth": 2},
     "encoding": {"x": {"datum": -49, "type": "quantitative", "scale": {"domain": [0, 193], "nice": false, "zero": false}, "axis": null}, "x2": {"datum": 210},
                  "y": {"datum": -415, "type": "quantitative", "scale": {"domain": [0, 151], "reverse": true, "nice": false, "zero": false}, "axis": null}, "y2": {"datum": 151}}},
    {"data": {"name": "cap2"}, "mark": {"type": "text", "align": "left", "baseline": "top", "lineBreak": "\n", "lineHeight": 16.3, "font": "Lato", "fontSize": 12.8, "color": "#000"},
     "encoding": {"x": {"datum": -40, "type": "quantitative"}, "y": {"datum": -27.5, "type": "quantitative"}, "text": {"field": "c"}}}
   ]},
  {"width": 193, "height": 151, "view": {"stroke": null},
   "layer": [
    {"data": {"values": [{"k": 1}]}, "mark": {"type": "rule", "stroke": "#00b050", "strokeWidth": 2},
     "encoding": {"x": {"datum": -51, "type": "quantitative", "scale": {"domain": [0, 193], "nice": false, "zero": false}, "axis": null}, "x2": {"datum": 208},
                  "y": {"datum": -415, "type": "quantitative", "scale": {"domain": [0, 151], "reverse": true, "nice": false, "zero": false}, "axis": null}}},
    {"data": {"values": [{"k": 1}]}, "mark": {"type": "rule", "stroke": "#00b050", "strokeWidth": 2},
     "encoding": {"x": {"datum": -51, "type": "quantitative"}, "x2": {"datum": 208}, "y": {"datum": 151, "type": "quantitative"}}},
    {"data": {"values": [{"k": 1}]}, "mark": {"type": "rule", "stroke": "#00b050", "strokeWidth": 2},
     "encoding": {"x": {"datum": -51, "type": "quantitative"}, "y": {"datum": -415, "type": "quantitative"}, "y2": {"datum": 151}}},
    {"data": {"values": [{"k": 1}]}, "mark": {"type": "rule", "stroke": "#00b050", "strokeWidth": 2},
     "encoding": {"x": {"datum": 208, "type": "quantitative"}, "y": {"datum": -415, "type": "quantitative"}, "y2": {"datum": -28}}},
    {"data": {"values": [{"k": 1}]}, "mark": {"type": "rule", "stroke": "#111", "strokeWidth": 1},
     "encoding": {"x": {"datum": 207, "type": "quantitative"}, "y": {"datum": -28, "type": "quantitative"}, "y2": {"datum": 151}}},
    {"data": {"name": "cap3"}, "mark": {"type": "text", "align": "left", "baseline": "top", "lineBreak": "\n", "lineHeight": 16.3, "font": "Lato", "fontSize": 12.8, "color": "#000"},
     "encoding": {"x": {"datum": -42, "type": "quantitative"}, "y": {"datum": -27.5, "type": "quantitative"}, "text": {"field": "c"}}}
   ]}
],
"config": {
  "view": {"stroke": "#999", "strokeWidth": 1},
  "axis": {"labelFont": "Liberation Serif", "titleFont": "Liberation Serif", "labelFontSize": 10, "titleFontSize": 10.5, "titleFontWeight": "normal", "labelColor": "#111", "titleColor": "#111", "domain": false, "ticks": false, "labelPadding": 5, "labelFlush": false, "labelOverlap": false, "gridColor": "#d2d2d2"},
  "axisX": {"grid": false, "titlePadding": 2, "labelPadding": 5},
  "axisY": {"grid": true}
}
}
